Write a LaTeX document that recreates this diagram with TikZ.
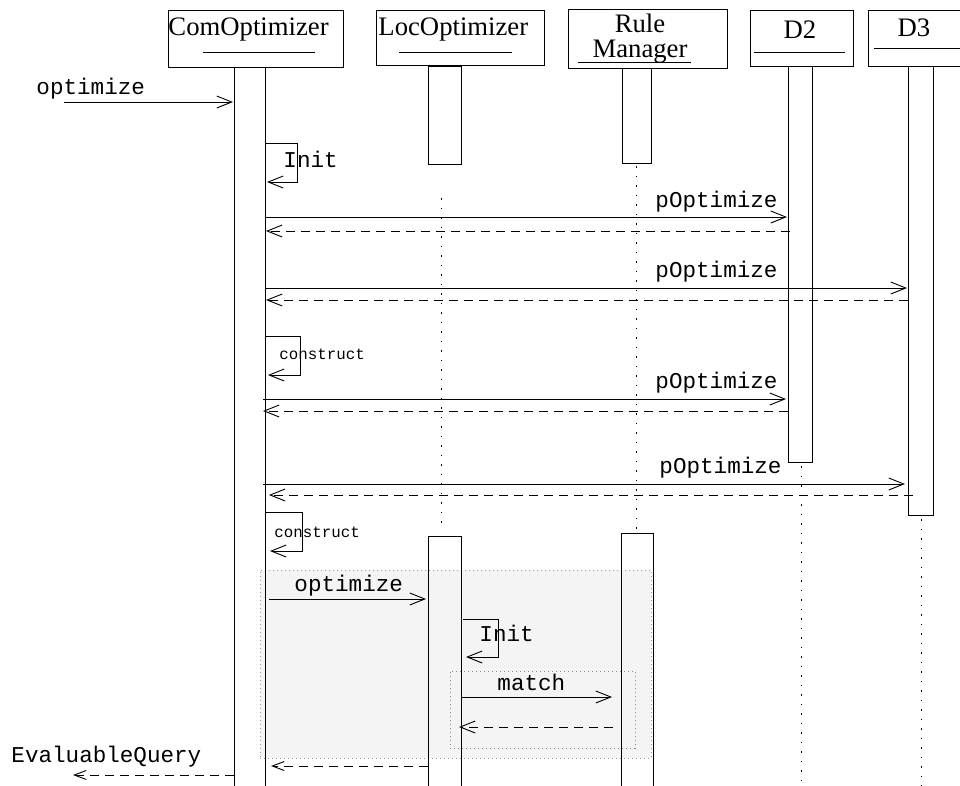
\documentclass[tikz,border=0pt]{standalone}
\usepackage{fontspec}
\setmainfont{Liberation Serif}
\setmonofont{Liberation Mono}
\usetikzlibrary{arrows.meta}
\tikzset{
  box/.style={draw, rectangle, inner sep=0pt, anchor=north west},
  hdrtext/.style={inner sep=0pt, font=\fontsize{26.7}{30}\selectfont},
  lbl/.style={inner sep=0pt, anchor=base west, font=\fontsize{22.6}{26}\selectfont\ttfamily},
  smalllbl/.style={inner sep=0pt, anchor=base west, font=\fontsize{15.8}{18}\selectfont\ttfamily},
  msg/.style={-{Straight Barb[length=15pt,width=12pt]}},
  smallmsg/.style={-{Straight Barb[length=12pt,width=9pt]}},
  ret/.style={msg, dash pattern=on 9pt off 6pt},
  smallret/.style={smallmsg, dash pattern=on 9pt off 6pt},
  life/.style={dash pattern=on 1.5pt off 8pt},
  frame/.style={fill=black!4.5, draw=black!45, line width=0.7pt, dash pattern=on 1pt off 3pt}
}
\begin{document}
\begin{tikzpicture}[x=1pt, y=-1pt, line width=0.9pt]
\useasboundingbox (0,0) rectangle (960,785);
\clip (0,0) rectangle (960,785);

% combined fragments (behind everything)
\node[box, frame, draw=black!40, minimum width=391pt, minimum height=188pt] (outer) at (260,570) {};
\node[box, frame, minimum width=185pt, minimum height=77pt] (inner) at (450,671) {};

% header boxes
\node[box, minimum width=175pt, minimum height=57pt] (com) at (168,10) {};
\node[box, minimum width=168pt, minimum height=55pt] (loc) at (376,10) {};
\node[box, minimum width=159pt, minimum height=59pt] (rm) at (568,9) {};
\node[box, minimum width=103pt, minimum height=56pt] (d2) at (750,10) {};
\node[box, minimum width=110pt, minimum height=56pt] (d3) at (868,10) {};

\node[hdrtext, anchor=base west] (comt) at (168,35) {ComOptimizer};
\node[hdrtext, anchor=base west] (loct) at (378,35) {LocOptimizer};
\node[hdrtext, anchor=base] (rmt1) at (640,32) {Rule};
\node[hdrtext, anchor=base] (rmt2) at (640,57) {Manager};
\node[hdrtext, anchor=base] (d2t) at (800,38) {D2};
\node[hdrtext, anchor=base] (d3t) at (914,36) {D3};

\draw (203,52) -- (315,52);
\draw (399,52) -- (512,52);
\draw (578,62) -- (691,62);
\draw (754,52) -- (845,52);
\draw (874,48) -- (962,48);

% activation bars
\node[box, minimum width=31pt, minimum height=730pt] (cbar) at (234,67) {};
\node[box, minimum width=33pt, minimum height=98pt] (lbar1) at (428,66) {};
\node[box, minimum width=29pt, minimum height=95pt] (rbar1) at (622,68) {};
\node[box, minimum width=24pt, minimum height=396pt] (d2bar) at (788,66) {};
\node[box, minimum width=25pt, minimum height=449pt] (d3bar) at (908,66) {};
\node[box, minimum width=33pt, minimum height=260pt] (lbar2) at (428,536) {};
\node[box, minimum width=32pt, minimum height=260pt] (rbar2) at (621,533) {};

% lifelines
\coordinate (ll1) at (441,198); \coordinate (ll2) at (441,530);
\coordinate (rl1) at (636,166); \coordinate (rl2) at (636,531);
\coordinate (dl1) at (801,466); \coordinate (dl2) at (801,790);
\coordinate (el1) at (921,519); \coordinate (el2) at (921,790);
\draw[life] (ll1) -- (ll2);
\draw[life] (rl1) -- (rl2);
\draw[life] (dl1) -- (dl2);
\draw[life] (el1) -- (el2);

% optimize (found message)
\coordinate (a1) at (64,102); \coordinate (a2) at (233,102);
\draw[msg] (a1) -- (a2);
\node[lbl] (l1) at (36,94) {optimize};

% Init self call
\coordinate (i1) at (265,143); \coordinate (i2) at (297,143);
\coordinate (i3) at (297,182); \coordinate (i4) at (267,182);
\draw[msg] (i1) -- (i2) -- (i3) -- (i4);
\node[lbl] (l2) at (283,167) {Init};

% pOptimize to D2
\coordinate (p1a) at (265,217); \coordinate (p1b) at (787,217);
\coordinate (r1a) at (790,231); \coordinate (r1b) at (266,231);
\draw[msg] (p1a) -- (p1b);
\draw[ret] (r1a) -- (r1b);
\node[lbl] (l3) at (655,207) {pOptimize};

% pOptimize to D3
\coordinate (p2a) at (265,288); \coordinate (p2b) at (907,288);
\coordinate (r2a) at (908,300); \coordinate (r2b) at (266,300);
\draw[msg] (p2a) -- (p2b);
\draw[ret] (r2a) -- (r2b);
\node[lbl] (l4) at (655,277) {pOptimize};

% construct
\coordinate (c1) at (265,336); \coordinate (c2) at (300,336);
\coordinate (c3) at (300,375); \coordinate (c4) at (268,375);
\draw[msg] (c1) -- (c2) -- (c3) -- (c4);
\node[smalllbl] (l5) at (279,359) {construct};

% pOptimize to D2 again
\coordinate (p3a) at (263,399); \coordinate (p3b) at (786,399);
\coordinate (r3a) at (788,411); \coordinate (r3b) at (263,411);
\draw[msg] (p3a) -- (p3b);
\draw[ret] (r3a) -- (r3b);
\node[lbl] (l6) at (655,388) {pOptimize};

% pOptimize to D3 again
\coordinate (p4a) at (263,484); \coordinate (p4b) at (905,484);
\coordinate (r4a) at (913,495); \coordinate (r4b) at (269,495);
\draw[msg] (p4a) -- (p4b);
\draw[ret] (r4a) -- (r4b);
\node[lbl] (l7) at (659,473) {pOptimize};

% construct again
\coordinate (k1) at (265,512); \coordinate (k2) at (302,512);
\coordinate (k3) at (302,551); \coordinate (k4) at (270,551);
\draw[msg] (k1) -- (k2) -- (k3) -- (k4);
\node[smalllbl] (l8) at (274,537) {construct};

% optimize to LocOptimizer
\coordinate (o1) at (269,599); \coordinate (o2) at (426,599);
\draw[msg] (o1) -- (o2);
\node[lbl] (l9) at (294,591) {optimize};

% Init on LocOptimizer
\coordinate (j1) at (463,619); \coordinate (j2) at (498,619);
\coordinate (j3) at (498,657); \coordinate (j4) at (466,657);
\draw[msg] (j1) -- (j2) -- (j3) -- (j4);
\node[lbl] (l10) at (479,641) {Init};

% match
\coordinate (m1) at (462,697); \coordinate (m2) at (612,697);
\coordinate (m3) at (613,727); \coordinate (m4) at (459,727);
\draw[msg] (m1) -- (m2);
\draw[ret] (m3) -- (m4);
\node[lbl] (l11) at (497,690) {match};

% return to ComOptimizer
\coordinate (q1) at (428,766); \coordinate (q2) at (271,766);
\draw[smallret] (q1) -- (q2);

% EvaluableQuery
\coordinate (e1) at (234,775); \coordinate (e2) at (73,775);
\draw[smallret] (e1) -- (e2);
\node[lbl] (l12) at (11,762) {EvaluableQuery};
\end{tikzpicture}
\end{document}
